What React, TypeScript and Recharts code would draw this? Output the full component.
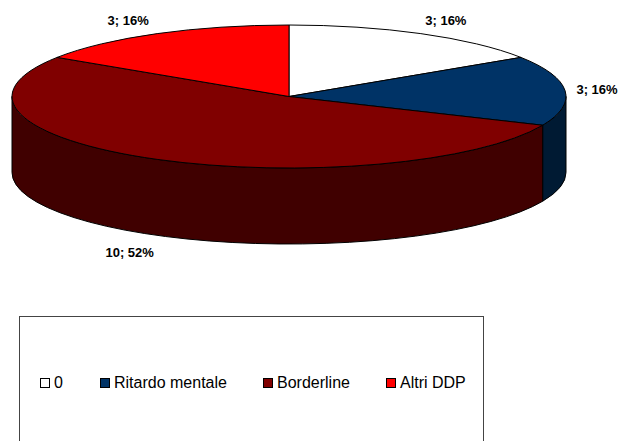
import React from 'react';
import { PieChart, Pie, Legend } from 'recharts';

const categories = ['0', 'Ritardo mentale', 'Borderline', 'Altri DDP'];
const values = [3, 3, 10, 3];
const percents = [16, 16, 52, 16];
const topColors = ['#FFFFFF', '#003366', '#800000', '#FF0000'];
const sideColors = ['#808080', '#001A33', '#400000', '#800000'];

const data = categories.map((name, i) => ({
  name,
  value: values[i],
  fill: topColors[i],
  side: sideColors[i],
}));

// flattening of the disc and height of its rim
const SQUASH = 71.5 / 277;
const DEPTH = 76;
const RAD = Math.PI / 180;

// label text centres relative to the slice's mid point on the rim
const labelNudge = [
  [25, -13],
  [32, -1],
  [-27.5, 93],
  [-29, -13],
];
const legendLeft = [20, 80, 243, 366];

function SliceShape(props: any) {
  const { cx, cy, outerRadius, startAngle, endAngle, fill } = props;
  const side = props.side ?? props.payload?.side;
  const rx = outerRadius;
  const ry = outerRadius * SQUASH;
  const pt = (a: number, dy = 0) =>
    `${cx + rx * Math.cos(a * RAD)} ${cy - ry * Math.sin(a * RAD) + dy}`;
  const large = startAngle - endAngle > 180 ? 1 : 0;
  const top = `M ${cx} ${cy} L ${pt(startAngle)} A ${rx} ${ry} 0 ${large} 1 ${pt(endAngle)} Z`;

  // only the front half of the rim can be seen
  const s = Math.min(startAngle, 0);
  const e = Math.max(endAngle, -180);
  const wall =
    s > e
      ? `M ${pt(s)} A ${rx} ${ry} 0 0 1 ${pt(e)} L ${pt(e, DEPTH)} A ${rx} ${ry} 0 0 0 ${pt(s, DEPTH)} Z`
      : null;

  return (
    <g>
      {wall && <path d={wall} fill={side} stroke="#000" strokeWidth={1} />}
      <path d={top} fill={fill} stroke="#000" strokeWidth={1} strokeLinejoin="round" />
    </g>
  );
}

function renderLabel(props: any) {
  const { cx, cy, outerRadius, midAngle, index, value } = props;
  const x = cx + outerRadius * Math.cos(midAngle * RAD) + labelNudge[index][0];
  const y = cy - outerRadius * SQUASH * Math.sin(midAngle * RAD) + labelNudge[index][1];
  return (
    <text
      x={x}
      y={y}
      textAnchor="middle"
      dominantBaseline="central"
      fontFamily="Liberation Sans"
      fontSize={13}
      fontWeight="bold"
      fill="#000"
    >
      {`${value}; ${percents[index]}%`}
    </text>
  );
}

function LegendBox({ payload }: any) {
  return (
    <div
      style={{
        position: 'relative',
        width: 465,
        height: 140,
        boxSizing: 'border-box',
        border: '1px solid #444',
        background: '#fff',
        fontFamily: 'Liberation Sans',
        fontSize: 16,
        color: '#000',
      }}
    >
      {(payload || []).map((item: any, i: number) => (
        <div
          key={item.value}
          style={{
            position: 'absolute',
            left: legendLeft[i],
            top: 56,
            display: 'flex',
            alignItems: 'center',
            whiteSpace: 'nowrap',
            lineHeight: '20px',
          }}
        >
          <span
            style={{
              width: 10,
              height: 10,
              boxSizing: 'border-box',
              border: '1px solid #000',
              background: item.color,
              marginRight: 4,
            }}
          />
          {item.value}
        </div>
      ))}
    </div>
  );
}

export default function App() {
  return (
    <div style={{ position: 'absolute', left: 0, top: 0, width: 619, height: 441, overflow: 'hidden' }}>
      <PieChart width={619} height={441} margin={{ top: 0, right: 0, bottom: 0, left: 0 }}>
        <Pie
          data={data}
          dataKey="value"
          nameKey="name"
          cx={289}
          cy={96.5}
          innerRadius={0}
          outerRadius={277}
          startAngle={90}
          endAngle={-270}
          paddingAngle={0}
          shape={SliceShape}
          label={renderLabel}
          labelLine={false}
          isAnimationActive={false}
        />
        <Legend
          content={LegendBox}
          itemSorter={null}
          wrapperStyle={{ position: 'absolute', left: 19, top: 316, width: 465, bottom: 'auto' }}
        />
      </PieChart>
    </div>
  );
}
